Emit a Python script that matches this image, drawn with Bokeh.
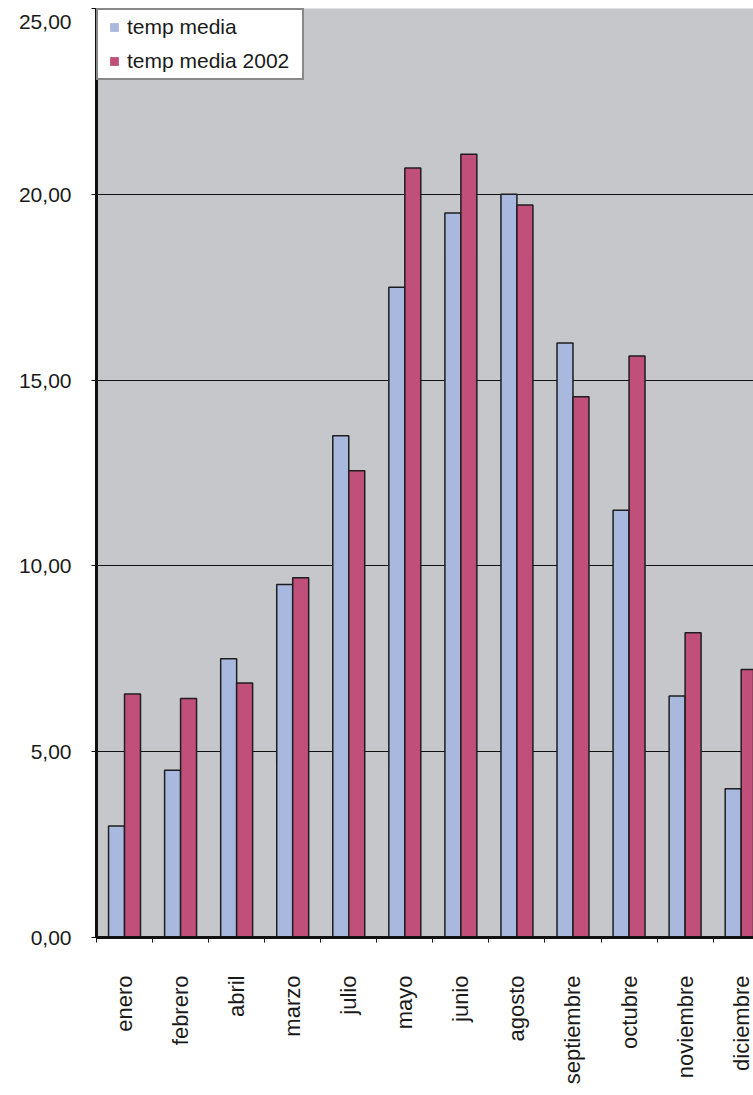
import math
from bokeh.plotting import figure
from bokeh.models import ColumnDataSource, Range1d, FixedTicker, Legend, LegendItem
from bokeh.transform import dodge
from bokeh.embed import file_html
from bokeh.resources import INLINE

# ---- data ----
months = ["enero", "febrero", "abril", "marzo", "julio", "mayo", "junio",
          "agosto", "septiembre", "octubre", "noviembre", "diciembre"]
temp_media = [3.0, 4.5, 7.5, 9.5, 13.5, 17.5, 19.5, 20.0, 16.0, 11.5, 6.5, 4.0]
temp_media_2002 = [6.55, 6.43, 6.85, 9.68, 12.56, 20.71, 21.08, 19.71, 14.55, 15.65, 8.2, 7.21]
y_ticks = [0, 5, 10, 15, 20, 25]
y_tick_labels = ["0,00", "5,00", "10,00", "15,00", "20,00", "25,00"]
series_names = ["temp media", "temp media 2002"]

# ---- styles ----
BLUE = "#A9B8DF"
RED = "#C0507A"
BG = "#C6C7CB"
FONT = "Liberation Sans"
TXT = "#1a1a1a"

centers = [i + 0.5 for i in range(len(months))]
bounds = [float(i) for i in range(len(months) + 1)]

src = ColumnDataSource(dict(x=centers, a=temp_media, b=temp_media_2002))

p = figure(frame_width=657, frame_height=929,
           min_border_left=96, min_border_top=8, min_border_right=0, min_border_bottom=158,
           x_range=Range1d(0, 11.72), y_range=Range1d(0, 25),
           output_backend="svg", toolbar_location=None,
           background_fill_color=BG, border_fill_color="white")
p.outline_line_color = None

bw = 0.285
r1 = p.vbar(x=dodge("x", -bw / 2, range=p.x_range), top="a", width=bw, bottom=0,
            source=src, fill_color=BLUE, line_color="#1e1e1e", line_width=1.5)
r2 = p.vbar(x=dodge("x", bw / 2, range=p.x_range), top="b", width=bw, bottom=0,
            source=src, fill_color=RED, line_color="#1e1e1e", line_width=1.5)

# grid
p.xgrid.visible = False
p.ygrid.ticker = FixedTicker(ticks=y_ticks)
p.ygrid.grid_line_color = "#111111"
p.ygrid.grid_line_width = 1
p.ygrid.level = "underlay"

# y axis (top label pushed a little down so it stays inside the page)
overrides = {t: l for t, l in zip(y_ticks, y_tick_labels)}
overrides[y_ticks[-1]] = "\n" + y_tick_labels[-1]
ya = p.yaxis[0]
ya.ticker = FixedTicker(ticks=y_ticks)
ya.major_label_overrides = overrides
ya.axis_line_width = 3
ya.axis_line_color = "#111111"
ya.major_tick_out = 5
ya.major_tick_in = 0
ya.major_tick_line_color = "#111111"
ya.minor_tick_line_color = None
ya.major_label_standoff = 20
ya.major_label_text_font = FONT
ya.major_label_text_font_size = "21px"
ya.major_label_text_line_height = 0.4
ya.major_label_text_color = TXT

# x axis
xa = p.xaxis[0]
xa.ticker = FixedTicker(ticks=centers, minor_ticks=bounds)
xa.major_label_overrides = {c: m for c, m in zip(centers, months)}
xa.major_label_orientation = math.pi / 2
xa.axis_line_width = 3
xa.axis_line_color = "#111111"
xa.major_tick_out = 0
xa.major_tick_in = 0
xa.minor_tick_out = 5
xa.minor_tick_in = 0
xa.minor_tick_line_color = "#111111"
xa.major_label_standoff = 33
xa.major_label_text_font = FONT
xa.major_label_text_font_size = "22px"
xa.major_label_text_color = TXT

# legend with small square markers (proxy renderers placed outside the visible range)
m1 = p.scatter(x=[-5], y=[-5], marker="square", size=8, fill_color=BLUE, line_color=None)
m2 = p.scatter(x=[-5], y=[-5], marker="square", size=8, fill_color=RED, line_color=None)
legend = Legend(items=[LegendItem(label=series_names[0], renderers=[m1]),
                       LegendItem(label=series_names[1], renderers=[m2])],
                location="top_left", margin=0, padding=5, spacing=10,
                glyph_width=22, glyph_height=24, label_height=24, label_width=170,
                label_standoff=2,
                label_text_font=FONT, label_text_font_size="21px", label_text_color=TXT,
                border_line_color="#111111", border_line_width=2,
                background_fill_color="white", background_fill_alpha=1.0)
p.add_layout(legend)

open("out.html", "w").write(file_html(p, INLINE))
